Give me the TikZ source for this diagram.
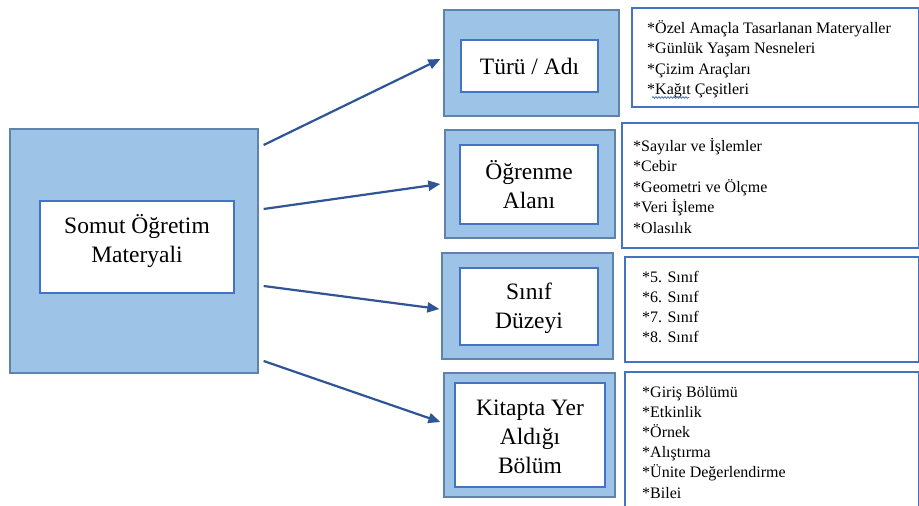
\documentclass[tikz,border=0pt]{standalone}
\usepackage{fontspec}
\setmainfont{Liberation Serif}
\usetikzlibrary{arrows.meta,calc,decorations.pathmorphing}
\definecolor{fillblue}{HTML}{9DC3E6}
\definecolor{outerline}{HTML}{5F83AA}
\definecolor{innerline}{HTML}{4472C4}
\definecolor{arrowblue}{HTML}{2F5597}
\begin{document}
\begin{tikzpicture}[x=1pt,y=-1pt,
  outerbox/.style={draw=outerline, fill=fillblue, line width=1.3pt, inner sep=0pt},
  innerbox/.style={draw=innerline, fill=white, line width=2pt, inner sep=0pt, align=center,
    font=\fontsize{23.5}{29}\selectfont},
  bigtext/.style={inner sep=0pt, align=center, font=\fontsize{23.5}{29}\selectfont},
  listbox/.style={draw=innerline, fill=white, line width=2pt, inner sep=0pt},
  item/.style={anchor=base west, inner sep=0pt, font=\fontsize{16}{20}\selectfont},
  arr/.style={draw=arrowblue, line width=2.2pt, -{Triangle[length=12pt,width=10pt]}}]
\clip (0,0) rectangle (919,506);
\fill[white] (0,0) rectangle (919,506);
% main
\node[outerbox, minimum width=248pt, minimum height=244pt] (maino) at (134,251) {};
\node[innerbox, minimum width=194pt, minimum height=92pt] (maini) at (137,247) {};
\node[bigtext] (maint) at (137,241) {Somut Öğretim\\Materyali};
% category boxes
\node[outerbox, minimum width=175pt, minimum height=106pt] (turuo) at (531.5,63) {};
\node[innerbox, minimum width=137pt, minimum height=52pt] (turui) at (529.5,66) {Türü / Adı};
\node[outerbox, minimum width=170pt, minimum height=108pt] (ogro) at (530,184) {};
\node[innerbox, minimum width=138pt, minimum height=79pt] (ogri) at (529,184.5) {Öğrenme\\Alanı};
\node[outerbox, minimum width=171pt, minimum height=106pt] (sinifo) at (527.5,306) {};
\node[innerbox, minimum width=138pt, minimum height=77pt] (sinifi) at (529,306.5) {};
\node[bigtext] (sinift) at (529,308.5) {Sınıf\\Düzeyi};
\node[outerbox, minimum width=171pt, minimum height=124pt] (kito) at (529.5,435) {};
\node[innerbox, minimum width=150pt, minimum height=104pt] (kiti) at (530,435) {};
\node[bigtext] (kitt) at (530,437) {Kitapta Yer\\Aldığı\\Bölüm};
% list boxes
\node[listbox, minimum width=287pt, minimum height=99pt] (l1) at (775.5,57.5) {};
\node[listbox, minimum width=297pt, minimum height=125pt] (l2) at (770.5,185.5) {};
\node[listbox, minimum width=294pt, minimum height=105pt] (l3) at (772,309.5) {};
\node[listbox, minimum width=294pt, minimum height=150pt] (l4) at (772,447) {};
\foreach \t [count=\i] in {*Özel Amaçla Tasarlanan Materyaller,*Günlük Yaşam Nesneleri,*Çizim Araçları,*Kağıt Çeşitleri}
  \node[item] (a\i) at (647,{33+20.5*(\i-1)}) {\t};
\draw[innerline, line width=0.8pt, decorate, decoration={snake, amplitude=0.8pt, segment length=3pt}]
  ($(a4.base west)+(5,3)$) -- ($(a4.base west)+(42,3)$);
\foreach \t [count=\i] in {*Sayılar ve İşlemler,*Cebir,*Geometri ve Ölçme,*Veri İşleme,*Olasılık}
  \node[item] (b\i) at (633,{151+20.5*(\i-1)}) {\t};
\foreach \t [count=\i] in {*5. Sınıf,*6. Sınıf,*7. Sınıf,*8. Sınıf}
  \node[item] (c\i) at (642,{282+20.3*(\i-1)}) {\t};
\foreach \t [count=\i] in {*Giriş Bölümü,*Etkinlik,*Örnek,*Alıştırma,*Ünite Değerlendirme,*Bilei}
  \node[item] (d\i) at (642,{397+20.2*(\i-1)}) {\t};
% arrows
\draw[arr] ($(maino.east)+(5,-106)$) -- ($(turuo.west)+(-3,-4)$);
\draw[arr] ($(maino.east)+(5,-42)$) -- ($(ogro.west)+(-4,0)$);
\draw[arr] ($(maino.east)+(5,35)$) -- ($(sinifo.west)+(-2,3)$);
\draw[arr] ($(maino.east)+(5,110)$) -- ($(kito.west)+(-3,-13)$);
\end{tikzpicture}
\end{document}
